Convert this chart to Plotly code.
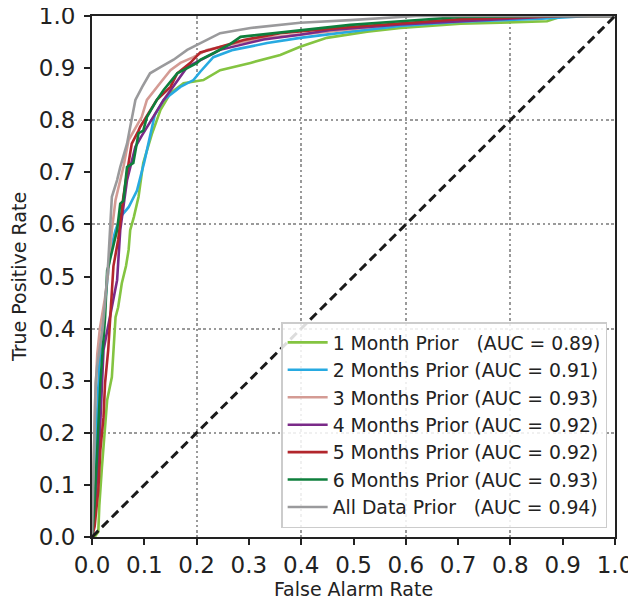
import plotly.graph_objects as go

NB = "\u00a0"

labels = [
    "1 Month Prior" + NB * 3 + "(AUC = 0.89)",
    "2 Months Prior (AUC = 0.91)",
    "3 Months Prior (AUC = 0.93)",
    "4 Months Prior (AUC = 0.92)",
    "5 Months Prior (AUC = 0.92)",
    "6 Months Prior (AUC = 0.93)",
    "All Data Prior" + NB * 3 + "(AUC = 0.94)",
]
colors = ["#84c441", "#27aae1", "#d49b94", "#7a2a88", "#b2262c", "#0e7f3c", "#9a9a9c"]

fpr_1m = [0, 0.005, 0.012, 0.014, 0.019, 0.024, 0.029, 0.038, 0.045, 0.05, 0.057, 0.065, 0.07, 0.073, 0.08, 0.089, 0.098, 0.115, 0.131, 0.15, 0.175, 0.213, 0.245, 0.303, 0.36, 0.398, 0.449, 0.526, 0.59, 0.705, 0.8, 0.87, 0.9, 1.0]
tpr_1m = [0, 0.0, 0.01, 0.06, 0.134, 0.2, 0.263, 0.307, 0.422, 0.441, 0.487, 0.52, 0.551, 0.589, 0.614, 0.653, 0.718, 0.775, 0.82, 0.852, 0.871, 0.877, 0.896, 0.91, 0.925, 0.941, 0.958, 0.97, 0.977, 0.985, 0.988, 0.99, 1.0, 1.0]

fpr_2m = [0, 0.003, 0.006, 0.01, 0.014, 0.02, 0.022, 0.03, 0.035, 0.045, 0.054, 0.07, 0.086, 0.1, 0.112, 0.12, 0.137, 0.169, 0.194, 0.207, 0.232, 0.27, 0.335, 0.398, 0.494, 0.59, 0.705, 0.86, 0.95, 1.0]
tpr_2m = [0, 0.05, 0.15, 0.25, 0.33, 0.4, 0.422, 0.5, 0.55, 0.589, 0.614, 0.633, 0.665, 0.72, 0.775, 0.81, 0.839, 0.864, 0.877, 0.893, 0.921, 0.935, 0.948, 0.958, 0.97, 0.981, 0.989, 0.995, 1.0, 1.0]

fpr_3m = [0, 0.002, 0.004, 0.006, 0.01, 0.015, 0.025, 0.03, 0.038, 0.045, 0.06, 0.07, 0.095, 0.105, 0.13, 0.15, 0.169, 0.194, 0.22, 0.278, 0.335, 0.398, 0.5, 0.59, 0.7, 0.9, 1.0]
tpr_3m = [0, 0.1, 0.2, 0.263, 0.35, 0.4, 0.46, 0.5, 0.589, 0.647, 0.71, 0.762, 0.806, 0.839, 0.871, 0.896, 0.91, 0.921, 0.935, 0.948, 0.958, 0.964, 0.975, 0.985, 0.992, 1.0, 1.0]

fpr_4m = [0, 0.005, 0.01, 0.015, 0.022, 0.035, 0.048, 0.054, 0.067, 0.083, 0.095, 0.137, 0.182, 0.245, 0.328, 0.398, 0.456, 0.59, 0.7, 0.9, 1.0]
tpr_4m = [0, 0.04, 0.12, 0.2, 0.359, 0.43, 0.493, 0.589, 0.685, 0.749, 0.77, 0.839, 0.902, 0.935, 0.955, 0.964, 0.973, 0.984, 0.99, 1.0, 1.0]

fpr_5m = [0, 0.005, 0.012, 0.016, 0.022, 0.025, 0.031, 0.035, 0.038, 0.041, 0.05, 0.06, 0.07, 0.076, 0.089, 0.092, 0.124, 0.15, 0.163, 0.188, 0.207, 0.226, 0.29, 0.36, 0.494, 0.59, 0.705, 0.9, 1.0]
tpr_5m = [0, 0.02, 0.09, 0.167, 0.23, 0.296, 0.359, 0.422, 0.487, 0.52, 0.57, 0.653, 0.718, 0.755, 0.78, 0.787, 0.839, 0.864, 0.89, 0.91, 0.93, 0.935, 0.954, 0.967, 0.979, 0.986, 0.994, 1.0, 1.0]

fpr_6m = [0, 0.004, 0.01, 0.016, 0.025, 0.029, 0.031, 0.048, 0.054, 0.06, 0.067, 0.079, 0.089, 0.098, 0.105, 0.124, 0.137, 0.163, 0.201, 0.207, 0.233, 0.264, 0.284, 0.398, 0.494, 0.59, 0.705, 0.85, 1.0]
tpr_6m = [0, 0.05, 0.167, 0.296, 0.422, 0.512, 0.518, 0.589, 0.64, 0.645, 0.71, 0.718, 0.775, 0.78, 0.806, 0.839, 0.858, 0.89, 0.91, 0.916, 0.929, 0.946, 0.96, 0.973, 0.983, 0.99, 0.998, 1.0, 1.0]

fpr_all = [0, 0.002, 0.004, 0.007, 0.01, 0.02, 0.025, 0.031, 0.038, 0.048, 0.054, 0.067, 0.073, 0.083, 0.096, 0.111, 0.131, 0.156, 0.182, 0.207, 0.245, 0.303, 0.398, 0.494, 0.59, 0.62, 1.0]
tpr_all = [0, 0.1, 0.2, 0.296, 0.33, 0.397, 0.45, 0.526, 0.653, 0.685, 0.71, 0.755, 0.787, 0.839, 0.864, 0.89, 0.902, 0.916, 0.935, 0.948, 0.967, 0.977, 0.987, 0.992, 0.998, 1.0, 1.0]

chance = [0.0, 1.0]

series = [
    (fpr_1m, tpr_1m), (fpr_2m, tpr_2m), (fpr_3m, tpr_3m), (fpr_4m, tpr_4m),
    (fpr_5m, tpr_5m), (fpr_6m, tpr_6m), (fpr_all, tpr_all),
]

tick_vals = [i / 10 for i in range(11)]
tick_text = [f"{v:.1f}" for v in tick_vals]
grid_vals = [0.2, 0.4, 0.6, 0.8]

fig = go.Figure()
for i, ((fx, ty), name, col) in enumerate(zip(series, labels, colors)):
    fig.add_trace(go.Scatter(
        x=fx, y=ty, mode="lines", name=name,
        line=dict(color=col, width=2.6),
        legendgroup=f"g{i}",
    ))

fig.add_trace(go.Scatter(
    x=chance, y=chance, mode="lines", showlegend=False,
    line=dict(color="#1a1a1a", width=3, dash="9px,5px"),
))

axis_common = dict(
    range=[0, 1], tickmode="array", tickvals=tick_vals, ticktext=tick_text,
    showgrid=False, zeroline=False, showline=True, mirror=True,
    linecolor="#222222", linewidth=2, ticks="outside", ticklen=6, tickwidth=2,
    tickcolor="#222222",
    tickfont=dict(family="DejaVu Sans", size=23, color="#222222"),
    ticklabeloverflow="allow",
    minor=dict(tickmode="array", tickvals=grid_vals, showgrid=True,
               gridcolor="#9a9a9a", gridwidth=2.2, griddash="2.5px,2.8px", ticklen=0),
    automargin=False,
)

# The page body has an 8px margin, so the figure is sized to fit the 636x600 window.
fig.update_layout(
    width=628, height=592,
    margin=dict(l=84, r=21, t=8, b=63),
    plot_bgcolor="white", paper_bgcolor="white",
    xaxis=dict(**axis_common, title=dict(text="False Alarm Rate", standoff=7,
               font=dict(family="DejaVu Sans", size=19, color="#222222"))),
    yaxis=dict(**axis_common, ticklabelstandoff=4,
               title=dict(text="True Positive Rate", standoff=7,
               font=dict(family="DejaVu Sans", size=19, color="#222222"))),
    legend=dict(
        x=0.985, y=0.017, xanchor="right", yanchor="bottom",
        bgcolor="rgba(255,255,255,0.85)", bordercolor="#cccccc", borderwidth=1.5,
        font=dict(family="DejaVu Sans", size=18.8, color="#222222"),
        tracegroupgap=0, traceorder="grouped", itemwidth=40,
    ),
    showlegend=True,
)

fig.write_html("out.html")
